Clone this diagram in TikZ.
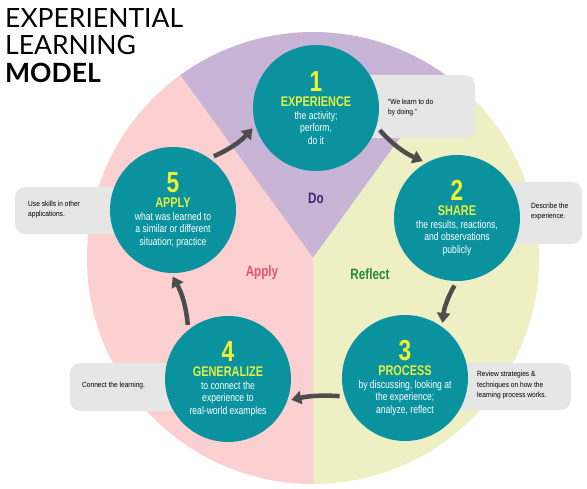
\documentclass[tikz,border=0pt]{standalone}
\usepackage{fontspec}
\setmainfont{Liberation Sans}
\newfontfamily\condfont[FakeStretch=0.78]{Liberation Sans}
\newfontfamily\notefont[FakeStretch=0.88]{Liberation Sans}
\newfontfamily\titlefont{Lato}
\usepackage{tikz}
\usetikzlibrary{arrows.meta,positioning}
\definecolor{stageteal}{RGB}{10,147,158}
\definecolor{numyellow}{RGB}{242,242,52}
\definecolor{headyellow}{RGB}{226,240,66}
\definecolor{doviolet}{RGB}{200,180,212}
\definecolor{applypink}{RGB}{252,208,208}
\definecolor{reflectcream}{RGB}{238,240,196}
\definecolor{notegray}{RGB}{230,230,230}
\definecolor{arrowgray}{RGB}{77,77,77}
\definecolor{dotext}{RGB}{60,40,110}
\definecolor{applytext}{RGB}{228,85,105}
\definecolor{reflecttext}{RGB}{40,135,60}
\tikzstyle{stage} = [circle, fill=stageteal, minimum size=126pt, inner sep=0pt, align=center, text=white, font=\condfont\fontsize{11}{12.5}\selectfont]
\tikzstyle{cyc} = [draw=arrowgray, line width=4.5pt, -{Triangle[length=10pt,width=13pt]}, shorten <=5pt, shorten >=4pt]
\tikzstyle{note} = [fill=notegray, rounded corners=10pt]
\tikzstyle{notetext} = [anchor=west, inner sep=0pt, align=left, font=\notefont\fontsize{7.5}{10.5}\selectfont]
\tikzstyle{phase} = [font=\condfont\bfseries\fontsize{15}{15}\selectfont]
\newcommand{\stagehead}[2]{{\fontsize{29}{29}\selectfont\bfseries\color{numyellow}#1}\\[3pt]{\fontsize{14}{14}\selectfont\bfseries\color{headyellow}#2}}

\begin{document}
\begin{tikzpicture}[x=1pt, y=-1pt]
  \useasboundingbox (0,0) rectangle (587,489);
  % background wheel
  \coordinate (hub) at (313,258);
  \fill[doviolet]     (hub) -- ++(234:226) arc[start angle=234, end angle=306, radius=226] -- cycle;
  \fill[applypink]    (hub) -- ++(90:226)  arc[start angle=90,  end angle=234, radius=226] -- cycle;
  \fill[reflectcream] (hub) -- ++(-54:226) arc[start angle=-54, end angle=90,  radius=226] -- cycle;

  \node[anchor=north west, inner sep=0pt, align=left, font=\titlefont\fontsize{26.5}{27.5}\selectfont] (title) at (5,8)
    {EXPERIENTIAL\\LEARNING\\\textbf{MODEL}};

  \node[phase, text=dotext]      (do)      at (316,198) {Do};
  \node[phase, text=applytext]   (apply)   at (262,273) {Apply};
  \node[phase, text=reflecttext] (reflect) at (370,274) {Reflect};

  % callouts
  \fill[note] (345,75)  rectangle (475,138);
  \fill[note] (480,182) rectangle (582,244);
  \fill[note] (430,363) rectangle (571,410);
  \fill[note] (70,363)  rectangle (200,411);
  \fill[note] (15,187)  rectangle (150,234);
  \node[notetext] (quote)    at (388,107.5) {“We learn to do\\by doing.”};
  \node[notetext] (describe) at (531,211.5) {Describe the\\experience.};
  \node[notetext] (review)   at (477,385.5) {Review strategies \&\\techniques on how the\\learning process works.};
  \node[notetext] (connect)  at (82,386)    {Connect the learning.};
  \node[notetext] (useskill) at (28,209.5)  {Use skills in other\\applications.};

  % stages
  \node[stage] (exp)  at (316,108) {\stagehead{1}{EXPERIENCE}\\the activity;\\perform,\\do it};
  \node[stage] (shr)  at (457,218) {\stagehead{2}{SHARE}\\the results, reactions,\\and observations\\publicly};
  \node[stage] (proc) at (405,378) {\stagehead{3}{PROCESS}\\by discussing, looking at\\the experience;\\analyze, reflect};
  \node[stage] (gen)  at (228,379) {\stagehead{4}{GENERALIZE}\\to connect the\\experience to\\real-world examples};
  \node[stage] (app)  at (173,210) {\stagehead{5}{APPLY}\\what was learned to\\a similar or different\\situation; practice};

  \draw[cyc] (exp.-17)  to[bend right=12] (shr.119);
  \draw[cyc] (shr.-90)  to[bend right=12] (proc.54);
  \draw[cyc] (proc.197) to[bend right=8]  (gen.-20);
  \draw[cyc] (gen.129)  to[bend right=12] (app.-92);
  \draw[cyc] (app.55)   to[bend right=12] (exp.196);
\end{tikzpicture}
\end{document}
